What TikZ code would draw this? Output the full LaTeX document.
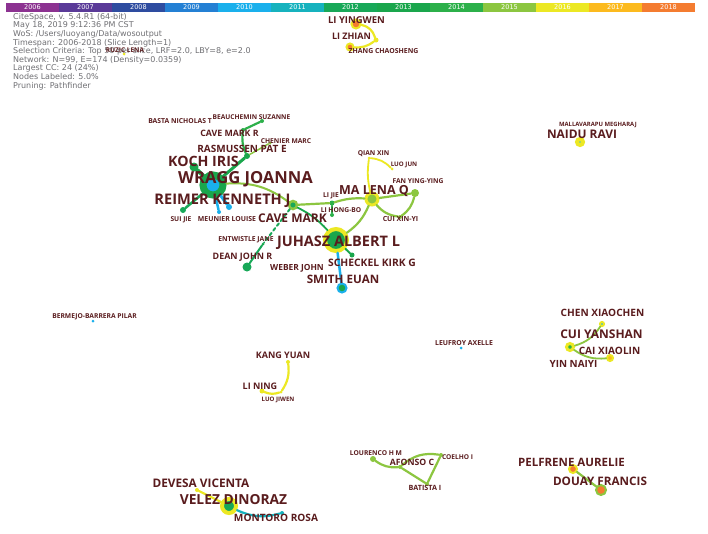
\documentclass[tikz,border=0pt]{standalone}
\usepackage{fontspec}
\setmainfont{Open Sans}
\newfontfamily\hdrfont{DejaVu Sans}
\definecolor{labelc}{RGB}{90,28,30}
\definecolor{hdrc}{RGB}{112,112,116}
\definecolor{c2006}{RGB}{140,50,145}
\definecolor{c2007}{RGB}{90,58,152}
\definecolor{c2008}{RGB}{46,76,160}
\definecolor{c2009}{RGB}{36,128,212}
\definecolor{c2010}{RGB}{26,176,236}
\definecolor{c2011}{RGB}{22,178,190}
\definecolor{c2012}{RGB}{24,168,88}
\definecolor{c2013}{RGB}{26,166,76}
\definecolor{c2014}{RGB}{44,176,74}
\definecolor{c2015}{RGB}{140,198,64}
\definecolor{c2016}{RGB}{236,232,36}
\definecolor{c2017}{RGB}{252,186,30}
\definecolor{c2018}{RGB}{244,124,48}
\begin{document}
\begin{tikzpicture}[x=1pt,y=-1pt,
  lab/.style={text=labelc,inner sep=0pt,text depth=0pt,font=\bfseries\fontsize{#1}{#1}\selectfont},
  dot/.style={circle,inner sep=0pt,minimum size=#1},
  link/.style={line width=#1,line cap=round},
  link/.default=2.2,
  yrlbl/.style={text=white,inner sep=0pt,font=\hdrfont\fontsize{6.5}{6.5}\selectfont}]
\path[use as bounding box,fill=white] (0,0) rectangle (708,533);

% time slices
\foreach \yr [count=\i from 0] in {2006,...,2018}{
  \fill[c\yr] (6+53*\i,3) rectangle (59+53*\i,11.5);
  \node[yrlbl] (yr\yr) at (32.5+53*\i,7.4) {\yr};
}

% run info
\node[anchor=north west,inner sep=0pt,text=hdrc,align=left,
  font=\hdrfont\fontsize{8}{8.6}\selectfont] (info) at (13,13)
  {CiteSpace, v. 5.4.R1 (64-bit)\\
   May 18, 2019 9:12:36 PM CST\\
   WoS: /Users/luoyang/Data/wosoutput\\
   Timespan: 2006-2018 (Slice Length=1)\\
   Selection Criteria: Top 50 per slice, LRF=2.0, LBY=8, e=2.0\\
   Network: N=99, E=174 (Density=0.0359)\\
   Largest CC: 24 (24\%)\\
   Nodes Labeled: 5.0\%\\
   Pruning: Pathfinder};

% nodes
\node[dot=9,fill=c2018,draw=c2016,line width=2pt] (nLiy) at (356,24) {};
\node[dot=7,fill=c2018,draw=c2016,line width=2pt] (nLiz) at (350,47) {};
\node[dot=5,fill=c2016] (nZhang) at (376,40) {};
\node[dot=3,fill=c2016] (nRuzic) at (124,54) {};

\node[dot=20,fill=c2010,draw=c2013,line width=7pt] (nWragg) at (213,185) {};
\node[dot=9,fill=c2013] (nKoch) at (194,167) {};
\node[dot=6,fill=c2010] (nReimer) at (229,207) {};
\node[dot=6,fill=c2013] (nRasm) at (247,156) {};
\node[dot=4,fill=c2014] (nCaveMR) at (243,130) {};
\node[dot=4,fill=c2014] (nBeau) at (262,121) {};
\node[dot=3,fill=c2015] (nChenier) at (270,143) {};
\node[dot=6,fill=c2012] (nSui) at (183,210) {};
\node[dot=4,fill=c2010] (nMeunier) at (219,212) {};
\node[dot=8,fill=c2012,draw=c2015,line width=2.5pt] (nCaveM) at (293,205) {};
\node[dot=5,fill=c2014] (nLiJie) at (332,203) {};
\node[dot=4,fill=c2014] (nLiHB) at (332,215) {};
\node[dot=12,fill=c2015,draw=c2016,line width=3pt] (nMaLena) at (372,199) {};
\node[dot=3,fill=c2016] (nQian) at (369,158) {};
\node[dot=3,fill=c2016] (nLuoJun) at (392,169) {};
\node[dot=8,fill=c2015] (nFan) at (415,193) {};
\node[dot=4,fill=c2015] (nCuiXY) at (400,217) {};
\node[dot=22,fill=c2013,draw=c2016,line width=4pt] (nJuhasz) at (336,240) {};
\node[dot=3,fill=c2013] (nEntw) at (263,244) {};
\node[dot=9,fill=c2012] (nDean) at (247,267) {};
\node[dot=5,fill=c2013] (nScheckel) at (352,255) {};
\node[dot=9,fill=c2013,draw=c2010,line width=2pt] (nSmith) at (342,288) {};

\node[dot=6,fill=c2010,draw=c2016,line width=4pt] (nNaidu) at (580,142) {};
\node[dot=4,fill=c2010,draw=c2016,line width=2pt] (nChenX) at (602,324) {};
\node[dot=7,fill=c2014,draw=c2016,line width=3pt] (nCuiY) at (570,347) {};
\node[dot=6,fill=c2017,draw=c2016,line width=2pt] (nCaiX) at (610,358) {};
\node[dot=3,fill=c2010] (nBermejo) at (93,321) {};
\node[dot=3,fill=c2010] (nLeufroy) at (461,348) {};

\node[dot=4,fill=c2016] (nKang) at (288,362) {};
\node[dot=5,fill=c2016] (nLiNing) at (262,391) {};
\node[dot=3,fill=c2016] (nLuoJw) at (281,392) {};

\node[dot=4,fill=c2016] (nDevesa) at (197,490) {};
\node[dot=14,fill=c2012,draw=c2016,line width=4pt] (nVelez) at (229,506) {};
\node[dot=4,fill=c2011] (nMontoro) at (282,513) {};

\node[dot=6,fill=c2015] (nLourenco) at (373,459) {};
\node[dot=4,fill=c2015] (nAfonso) at (400,467) {};
\node[dot=4,fill=c2015] (nCoelho) at (441,455) {};
\node[dot=4,fill=c2015] (nBatista) at (427,484) {};
\node[dot=8,fill=c2018,draw=c2016,line width=2pt] (nPelfrene) at (573,469) {};
\node[dot=10,fill=c2018,draw=c2015,line width=2pt] (nDouay) at (601,490) {};

% links
\path[draw,c2016,link] (nLiy) to[bend left=30] (nZhang);
\path[draw,c2016,link] (nZhang) to[bend left=20] (nLiz);
\path[draw,c2013,link=4] (nWragg) -- (nKoch);
\path[draw,c2010,link=3] (nWragg) -- (nReimer);
\path[draw,c2012,link=2.5] (nWragg) -- (nSui);
\path[draw,c2010,link=2.5] (nWragg) -- (nMeunier);
\path[draw,c2013,link=3] (nWragg) -- (nRasm);
\path[draw,c2014,link] (nRasm) to[bend left=15] (nCaveMR);
\path[draw,c2014,link] (nCaveMR) -- (nBeau);
\path[draw,c2015,link=1.5] (nRasm) -- (nChenier);
\path[draw,c2015,link=2] (nWragg) to[bend left=20] (nCaveM);
\path[draw,c2015,link] (nCaveM) -- (nLiJie);
\path[draw,c2014,link=1.8] (nLiJie) -- (nLiHB);
\path[draw,c2015,link] (nLiJie) to[bend left=10] (nMaLena);
\path[draw,c2016,link=1.8] (nMaLena) to[bend left=10] (nQian);
\path[draw,c2016,link=1.8] (nQian) to[bend left=20] (nLuoJun);
\path[draw,c2015,link] (nMaLena) -- (nFan);
\path[draw,c2015,link] (nMaLena) to[bend right=20] (nCuiXY);
\path[draw,c2015,link] (nCuiXY) to[bend right=20] (nFan);
\path[draw,c2015,link] (nMaLena) to[bend left=15] (nJuhasz);
\path[draw,c2013,link=1.8] (nCaveM) to[bend left=10] (nJuhasz);
\path[draw,c2012,link=2,dashed] (nCaveM) -- (nEntw);
\path[draw,c2012,link=2] (nEntw) -- (nDean);
\path[draw,c2010,link=2.5] (nJuhasz) -- (nSmith);
\path[draw,c2013,link=2] (nJuhasz) -- (nScheckel);

\path[draw,c2015,link=1.8] (nChenX) to[bend left=20] (nCuiY);
\path[draw,c2015,link=1.8] (nCuiY) to[bend right=20] (nCaiX);
\path[draw,c2016,link] (nKang) to[bend left=20] (nLuoJw);
\path[draw,c2016,link] (nLuoJw) to[bend left=20] (nLiNing);
\path[draw,c2016,link] (nDevesa) -- (nVelez);
\path[draw,c2011,link] (nVelez) to[bend right=20] (nMontoro);
\path[draw,c2015,link] (nLourenco) to[bend right=20] (nAfonso);
\path[draw,c2015,link] (nAfonso) to[bend left=25] (nCoelho);
\path[draw,c2015,link] (nAfonso) -- (nBatista);
\path[draw,c2015,link] (nBatista) -- (nCoelho);
\path[draw,c2015,link] (nPelfrene) -- (nDouay);

% labels
\node[lab=9.5] (lLiYingwen) at (356.5,20) {LI YINGWEN};
\node[lab=9] (lLiZhian) at (351.5,36.5) {LI ZHIAN};
\node[lab=6.9] (lZhang) at (383.5,51) {ZHANG CHAOSHENG};
\node[lab=6.5] (lRuzic) at (125,50) {RUZIC LENA};
\node[lab=6.8] (lBasta) at (180,121) {BASTA NICHOLAS T};
\node[lab=6.6] (lBeau) at (251.5,117.5) {BEAUCHEMIN SUZANNE};
\node[lab=8.8] (lCaveMR) at (229.5,133) {CAVE MARK R};
\node[lab=6.7] (lChenier) at (286,141) {CHENIER MARC};
\node[lab=10] (lRasm) at (242,149) {RASMUSSEN PAT E};
\node[lab=14.2] (lKoch) at (203.5,161) {KOCH IRIS};
\node[lab=16.6] (lWragg) at (245.5,177) {WRAGG JOANNA};
\node[lab=14.6] (lReimer) at (222.5,199.5) {REIMER KENNETH J};
\node[lab=12.5] (lMaLena) at (374,189.5) {MA LENA Q};
\node[lab=6.7] (lQian) at (373.5,153) {QIAN XIN};
\node[lab=6.2] (lLuoJun) at (404,164) {LUO JUN};
\node[lab=6.7] (lFan) at (418,181) {FAN YING-YING};
\node[lab=6.7] (lLiJie) at (331,195.5) {LI JIE};
\node[lab=6.7] (lLiHB) at (341,210) {LI HONG-BO};
\node[lab=7] (lCuiXY) at (400.5,218.5) {CUI XIN-YI};
\node[lab=6.7] (lSui) at (181,219) {SUI JIE};
\node[lab=6.9] (lMeunier) at (227,219) {MEUNIER LOUISE};
\node[lab=12] (lCaveM) at (292.5,218.5) {CAVE MARK};
\node[lab=6.8] (lEntw) at (246,239) {ENTWISTLE JANE};
\node[lab=14.5] (lJuhasz) at (338.5,241) {JUHASZ ALBERT L};
\node[lab=8.9] (lDean) at (242.5,256) {DEAN JOHN R};
\node[lab=8.4] (lWeber) at (297,267) {WEBER JOHN};
\node[lab=10.3] (lScheckel) at (372,263) {SCHECKEL KIRK G};
\node[lab=11.6] (lSmith) at (343,279.5) {SMITH EUAN};
\node[lab=5.9] (lMalla) at (598,124) {MALLAVARAPU MEGHARAJ};
\node[lab=11.9] (lNaidu) at (582,134) {NAIDU RAVI};
\node[lab=6.7] (lBermejo) at (94.5,316) {BERMEJO-BARRERA PILAR};
\node[lab=9] (lKang) at (283,355) {KANG YUAN};
\node[lab=9] (lLiNing) at (260,386) {LI NING};
\node[lab=6.1] (lLuoJw) at (278,399) {LUO JIWEN};
\node[lab=6.9] (lLeufroy) at (464,343) {LEUFROY AXELLE};
\node[lab=10.1] (lChenX) at (602.5,313) {CHEN XIAOCHEN};
\node[lab=12] (lCuiY) at (601.5,334) {CUI YANSHAN};
\node[lab=10.1] (lCaiX) at (609.5,351) {CAI XIAOLIN};
\node[lab=9.9] (lYin) at (573.5,363.5) {YIN NAIYI};
\node[lab=11.8] (lDevesa) at (201,483) {DEVESA VICENTA};
\node[lab=13.8] (lVelez) at (233.5,499) {VELEZ DINORAZ};
\node[lab=10.1] (lMontoro) at (276,518) {MONTORO ROSA};
\node[lab=6.7] (lLourenco) at (376,453) {LOURENCO H M};
\node[lab=8.7] (lAfonso) at (412,462) {AFONSO C};
\node[lab=6.6] (lCoelho) at (457.5,457) {COELHO I};
\node[lab=7.2] (lBatista) at (425,488) {BATISTA I};
\node[lab=11.5] (lPelfrene) at (571.5,462) {PELFRENE AURELIE};
\node[lab=11.7] (lDouay) at (600,481) {DOUAY FRANCIS};
\end{tikzpicture}
\end{document}
